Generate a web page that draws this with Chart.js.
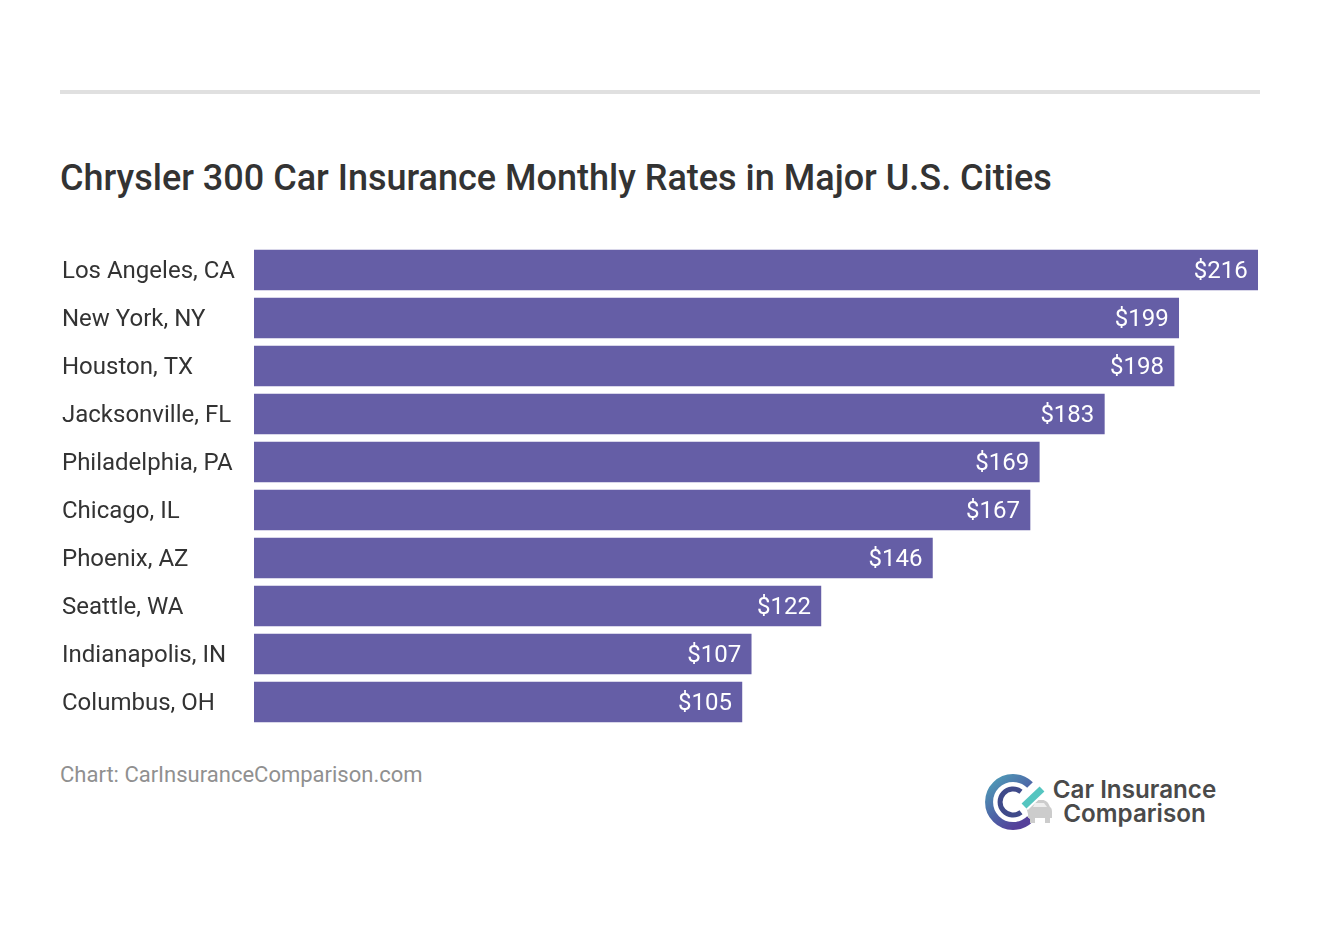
<!DOCTYPE html>
<html lang="en">
<head>
<meta charset="UTF-8">
<title>Chrysler 300 Car Insurance Monthly Rates</title>
<script src="https://cdn.jsdelivr.net/npm/chart.js@4/dist/chart.umd.min.js"></script>
<style>
    html, body { margin: 0; padding: 0; background: #fff; }
    body { width: 1320px; height: 932px; position: relative; overflow: hidden; font-family: Roboto, sans-serif; }
    #rule { position: absolute; left: 60px; top: 90px; width: 1200px; height: 4px; background: #e0e0e0; }
    #title { position: absolute; left: 60px; top: 156px; font-size: 36px; line-height: 44px; font-weight: 500; color: #333; white-space: nowrap; }
    #chartBox { position: absolute; left: 60px; top: 246px; width: 1200px; height: 480px; }
    #source { position: absolute; left: 60px; top: 762px; font-size: 22px; line-height: 26px; color: #909090; }
    #logo { position: absolute; left: 980px; top: 768px; }
    #logoText { position: absolute; left: 1034px; top: 778px; width: 201px; text-align: center; font-family: Inter, sans-serif; font-size: 24.2px; line-height: 24px; font-weight: 600; color: #4a4a4a; white-space: nowrap; }
</style>
</head>
<body>
<div id="rule"></div>
<div id="title">Chrysler 300 Car Insurance Monthly Rates in Major U.S. Cities</div>
<div id="chartBox"><canvas id="myChart"></canvas></div>
<div id="source">Chart: CarInsuranceComparison.com</div>
<svg id="logo" width="76" height="68" viewBox="0 0 76 68">
    <defs>
        <linearGradient id="ring" x1="0" y1="0" x2="0.7" y2="1">
            <stop offset="0" stop-color="#4f9fb8"/>
            <stop offset="0.6" stop-color="#4d63a6"/>
            <stop offset="1" stop-color="#55409a"/>
        </linearGradient>
    </defs>
    <path d="M50 17 A24 24 0 1 0 50 51" fill="none" stroke="url(#ring)" stroke-width="8"/>
    <path d="M41 23.7 A13 13 0 1 0 41 44.3" fill="none" stroke="#3f4a8a" stroke-width="5"/>
    <path d="M47 38 C49 33 51 32 56 32 L62 32 C66 32 68 34 70 39 C72 40 72 42 72 46 L72 50 L48 50 L48 46 C47 42 46 40 47 38 Z" fill="#cccccc"/>
    <rect x="50" y="50" width="5" height="5" fill="#cccccc"/>
    <rect x="65" y="50" width="5" height="5" fill="#cccccc"/>
    <path d="M53 39 L55 35 L64 35 L67 39 Z" fill="#eeeeee"/>
    <path d="M44 38 L62 21" fill="none" stroke="#fff" stroke-width="11"/>
    <path d="M44 38 L62 21" fill="none" stroke="#55c5c0" stroke-width="7"/>
</svg>
<div id="logoText">Car Insurance<br>Comparison</div>
<script>
    var cities = ['Los Angeles, CA', 'New York, NY', 'Houston, TX', 'Jacksonville, FL', 'Philadelphia, PA',
        'Chicago, IL', 'Phoenix, AZ', 'Seattle, WA', 'Indianapolis, IN', 'Columbus, OH'];
    var rates = [216, 199, 198, 183, 169, 167, 146, 122, 107, 105];

    // canvas 'middle' sits 2px high against the reference, so both label sets are drawn here
    var barLabels = {
        id: 'barLabels',
        afterDatasetsDraw: function(chart) {
            var ctx = chart.ctx;
            var bars = chart.getDatasetMeta(0).data;
            var yAxis = chart.scales.y;
            ctx.save();
            ctx.font = '24px Roboto';
            ctx.textBaseline = 'middle';
            bars.forEach(function(bar, i) {
                ctx.fillStyle = '#fff';
                ctx.textAlign = 'right';
                ctx.fillText('$' + rates[i], bar.x - 10, bar.y + 2);
                ctx.fillStyle = '#333';
                ctx.textAlign = 'left';
                ctx.fillText(yAxis.getLabelForValue(i), 2, yAxis.getPixelForValue(i) + 2);
            });
            ctx.restore();
        }
    };

    new Chart(document.getElementById('myChart').getContext('2d'), {
        type: 'bar',
        data: {
            labels: cities,
            datasets: [{
                data: rates,
                backgroundColor: '#655ea6',
                barThickness: 40,
                borderWidth: 0
            }]
        },
        options: {
            indexAxis: 'y',
            responsive: true,
            maintainAspectRatio: false,
            animation: false,
            layout: { padding: 0 },
            plugins: { legend: { display: false }, tooltip: { enabled: false } },
            scales: {
                x: { display: false, min: 0, max: 216.5 },
                y: {
                    afterFit: function(axis) { axis.width = 194; axis.paddingTop = 0; axis.paddingBottom = 0; },
                    grid: { display: false },
                    border: { display: false },
                    ticks: { display: false }
                }
            }
        },
        plugins: [barLabels]
    });
</script>
</body>
</html>
